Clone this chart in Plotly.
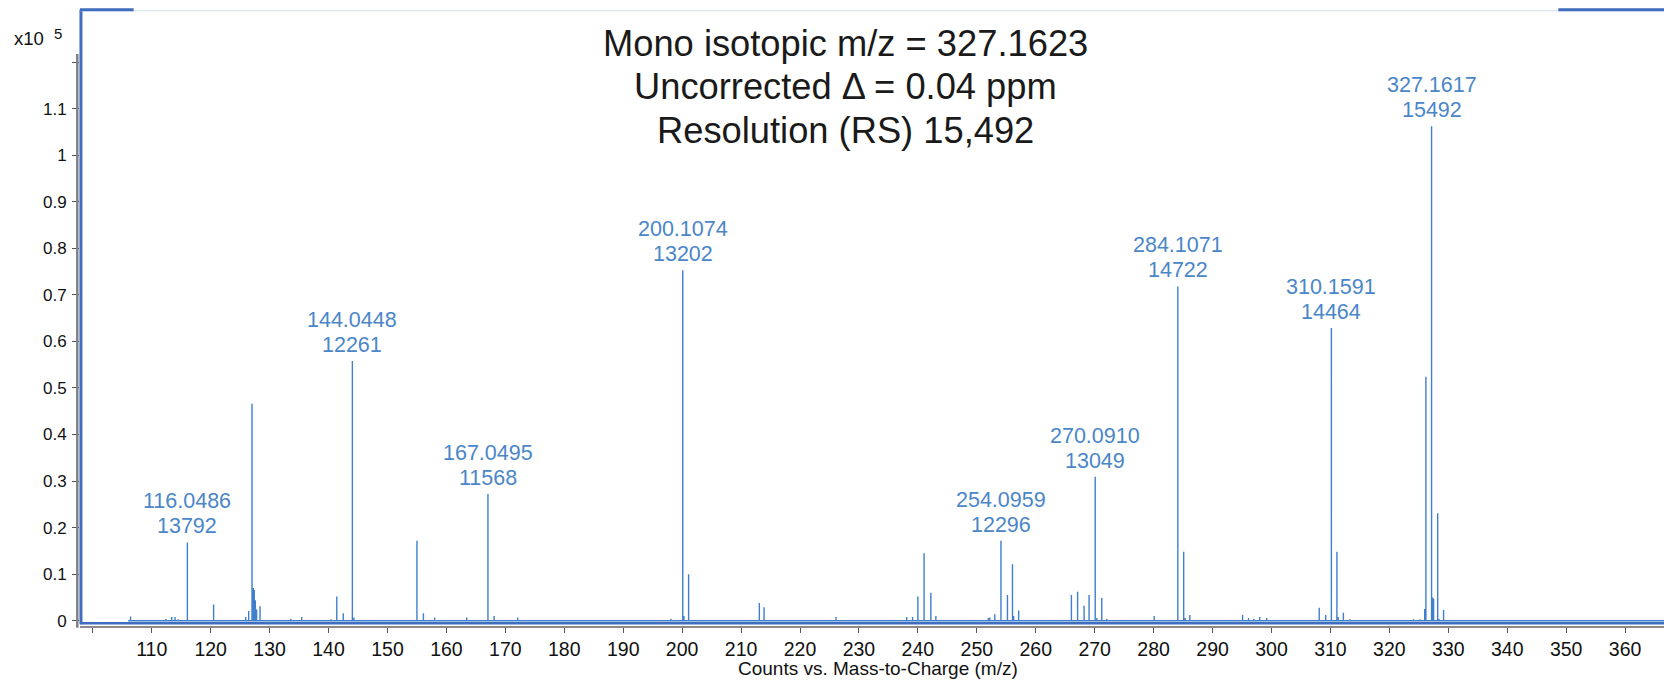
import plotly.graph_objects as go

# Centroided peak list: m/z and intensity (in units of 10^5 counts)
peak_mz = [
    106.4, 112.4, 113.4, 113.95, 114.5, 116.0486, 120.5, 125.95, 126.45,
    127.02, 127.25, 127.4, 127.58, 127.8, 128.38, 133.6, 135.45, 140.4,
    141.4, 142.5, 144.0448, 144.3, 155.0, 156.1, 158.0, 163.45, 167.0495,
    168.1, 172.1, 198.1, 200.1074, 200.3, 201.1, 213.1, 213.9, 226.1,
    238.1, 239.1, 240.0, 241.05, 242.2, 243.05, 251.95, 252.2, 253.05,
    254.0959, 255.2, 256.05, 256.25, 257.1, 266.05, 267.1, 268.2, 269.05,
    270.0910, 270.35, 271.2, 272.05, 280.1, 284.1071, 285.1, 285.35,
    286.15, 295.1, 296.1, 297.0, 298.0, 299.2, 308.1, 309.2, 310.1591,
    311.1, 311.3, 312.2, 313.3, 324.1, 325.2, 326.0, 326.2, 327.1617,
    327.35, 327.5, 328.2, 328.4, 329.2,
]
peak_int = [
    0.009, 0.004, 0.008, 0.008, 0.003, 0.168, 0.035, 0.008, 0.021,
    0.466, 0.070, 0.066, 0.044, 0.024, 0.031, 0.004, 0.008, 0.003,
    0.052, 0.016, 0.558, 0.007, 0.172, 0.016, 0.007, 0.007, 0.272,
    0.010, 0.007, 0.004, 0.753, 0.010, 0.100, 0.038, 0.029, 0.008,
    0.008, 0.008, 0.052, 0.145, 0.060, 0.010, 0.006, 0.007, 0.014,
    0.172, 0.055, 0.121, 0.010, 0.022, 0.055, 0.062, 0.032, 0.055,
    0.309, 0.006, 0.049, 0.004, 0.010, 0.718, 0.148, 0.006,
    0.012, 0.012, 0.006, 0.004, 0.008, 0.006, 0.028, 0.012, 0.629,
    0.148, 0.008, 0.017, 0.003, 0.003, 0.003, 0.025, 0.524, 1.062,
    0.050, 0.047, 0.231, 0.004, 0.023,
]

# Annotated peaks: m/z and resolution
label_mz = [116.0486, 144.0448, 167.0495, 200.1074, 254.0959,
            270.0910, 284.1071, 310.1591, 327.1617]
label_res = [13792, 12261, 11568, 13202, 12296, 13049, 14722, 14464, 15492]

x_ticks = list(range(100, 361, 10))
y_ticks = [round(0.1 * i, 1) for i in range(13)]

title_lines = ["Mono isotopic m/z = 327.1623",
               "Uncorrected \u0394 = 0.04 ppm",
               "Resolution (RS) 15,492"]
title_y = [0.9460, 0.8754, 0.8047]

LINE_BLUE = "#3f7fcc"
TEXT_BLUE = "#4a86c8"
FRAME_BLUE = "#3f6ebf"
FONT = "Liberation Sans, Arial, sans-serif"

# stick spectrum on a common baseline
xs, ys = [106.0], [0.0]
for mz, h in sorted(zip(peak_mz, peak_int)):
    xs += [mz, mz, mz]
    ys += [0.0, h, 0.0]
xs.append(368.0)
ys.append(0.0)

fig = go.Figure()
fig.add_trace(go.Scatter(x=xs, y=ys, mode="lines",
                         line=dict(color=LINE_BLUE, width=1.4),
                         hoverinfo="skip", showlegend=False))

# two-line peak labels: m/z over resolution
height_of = dict(zip(peak_mz, peak_int))
label_font = dict(family=FONT, size=21.5, color=TEXT_BLUE)
for mz, res in zip(label_mz, label_res):
    fig.add_annotation(x=mz, y=height_of[mz], xref="x", yref="y",
                       text=str(res), showarrow=False, yanchor="bottom",
                       xanchor="center", yshift=2, font=label_font)
    fig.add_annotation(x=mz, y=height_of[mz], xref="x", yref="y",
                       text=f"{mz:.4f}", showarrow=False, yanchor="bottom",
                       xanchor="center", yshift=27, font=label_font)

for line, yp in zip(title_lines, title_y):
    fig.add_annotation(x=0.483, y=yp, xref="paper", yref="paper",
                       text=line, showarrow=False,
                       xanchor="center", yanchor="middle",
                       font=dict(family=FONT, size=36.3, color="#1a1a1a"))

# exponent marker for the intensity axis
fig.add_annotation(x=-0.0325, y=0.954, xref="paper", yref="paper",
                   text="x10", showarrow=False, xanchor="center",
                   yanchor="middle", font=dict(family=FONT, size=18.5, color="#111"))
fig.add_annotation(x=-0.0141, y=0.962, xref="paper", yref="paper",
                   text="5", showarrow=False, xanchor="center",
                   yanchor="middle", font=dict(family=FONT, size=15, color="#111"))

fig.add_annotation(x=0.504, y=-0.0869, xref="paper", yref="paper",
                   text="Counts vs. Mass-to-Charge (m/z)", showarrow=False,
                   xanchor="center", yanchor="bottom", borderpad=0,
                   font=dict(family=FONT, size=19, color="#111"))

shapes = [
    # grey intensity axis line
    dict(type="line", xref="paper", yref="paper", x0=-0.0017, x1=-0.0017,
         y0=-0.003, y1=0.9286, line=dict(color="#808080", width=2.5)),
    # frame: left and bottom
    dict(type="line", xref="paper", yref="paper", x0=0.0006, x1=0.0006,
         y0=0.003, y1=1.0008, line=dict(color=FRAME_BLUE, width=3)),
    dict(type="line", xref="paper", yref="paper", x0=0.0, x1=1.0,
         y0=0.0044, y1=0.0044, line=dict(color=FRAME_BLUE, width=2.5)),
    # frame: top edge, thin in the middle with heavy ends
    dict(type="line", xref="paper", yref="paper", x0=0.0, x1=1.0,
         y0=0.9987, y1=0.9987, line=dict(color="#d3dde9", width=1)),
    dict(type="line", xref="paper", yref="paper", x0=0.0, x1=0.0339,
         y0=1.0005, y1=1.0005, line=dict(color=FRAME_BLUE, width=3)),
    dict(type="line", xref="paper", yref="paper", x0=0.9333, x1=1.0,
         y0=1.0005, y1=1.0005, line=dict(color=FRAME_BLUE, width=3)),
]

fig.update_layout(
    width=1664, height=680,
    margin=dict(l=80, r=0, t=10, b=54),
    plot_bgcolor="white", paper_bgcolor="white",
    shapes=shapes, showlegend=False,
    font=dict(family=FONT, color="#111"),
    xaxis=dict(range=[97.83, 366.6], tickvals=x_ticks,
               ticktext=["" if v == 100 else str(v) for v in x_ticks],
               ticks="outside", ticklen=5, tickwidth=1, tickcolor="#555",
               showline=True, linecolor="#8a8a8a", linewidth=1.5,
               showgrid=False, zeroline=False,
               tickfont=dict(family=FONT, size=19.5, color="#111")),
    yaxis=dict(range=[-0.0114, 1.3119], tickvals=y_ticks,
               ticktext=["0" if v == 0 else ("1" if v == 1 else ("" if v > 1.15 else f"{v:g}"))
                         for v in y_ticks],
               ticks="outside", ticklen=7, tickwidth=1, tickcolor="#555",
               showline=False, showgrid=False, zeroline=False,
               ticklabelstandoff=2,
               tickfont=dict(family=FONT, size=17, color="#111")),
)

fig.write_html("out.html")
